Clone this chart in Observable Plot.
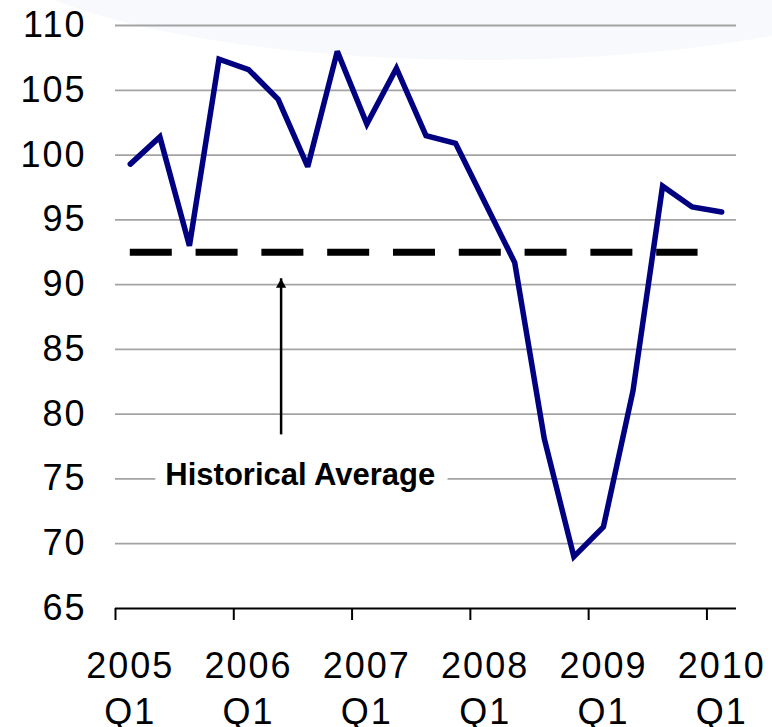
<!DOCTYPE html>
<html>
<head>
<meta charset="utf-8">
<script src="https://cdn.jsdelivr.net/npm/d3@7"></script>
<script src="https://cdn.jsdelivr.net/npm/@observablehq/plot@0.6"></script>
<style>
  html, body { margin: 0; padding: 0; background: white; }
  #wrap { position: relative; width: 772px; height: 727px; overflow: hidden; }
  #swoosh { position: absolute; left: -40px; top: -220px; width: 1040px; height: 280px;
            border-radius: 50%; background: #f7f9fc; }
  #chart { position: absolute; left: 0; top: 0; }
  #chart g[aria-label="y-axis tick label"] text,
  #chart g[aria-label="x-axis tick label"] text { letter-spacing: 2px; }
</style>
</head>
<body>
<div id="wrap"><div id="swoosh"></div><div id="chart"></div></div>
<script>
// Quarterly series, 2005 Q1 – 2010 Q1
const quarters = [
  "2005 Q1","2005 Q2","2005 Q3","2005 Q4",
  "2006 Q1","2006 Q2","2006 Q3","2006 Q4",
  "2007 Q1","2007 Q2","2007 Q3","2007 Q4",
  "2008 Q1","2008 Q2","2008 Q3","2008 Q4",
  "2009 Q1","2009 Q2","2009 Q3","2009 Q4",
  "2010 Q1"
];
const values = [
  99.3, 101.4, 93.0, 107.4,
  106.6, 104.3, 99.1, 108.0,
  102.4, 106.7, 101.5, 100.9,
  96.3, 91.7, 78.1, 69.0,
  71.3, 81.8, 97.6, 96.0,
  95.6
];
// x tick labels (every 4th quarter)
const tickIndex = [0, 4, 8, 12, 16, 20];
const tickYears = ["2005", "2006", "2007", "2008", "2009", "2010"];
const tickQuarter = ["Q1", "Q1", "Q1", "Q1", "Q1", "Q1"];
// y ticks
const yTicks = [65, 70, 75, 80, 85, 90, 95, 100, 105, 110];
// Historical average reference line
const historicalAverage = [92.5];
const averageFrom = [0];      // quarter index
const averageTo = [19.2];     // quarter index
// Annotation
const annotationText = ["Historical Average"];
const annotationAt = [{x: 5.75, y: 75}];
const arrowAt = [{x: 5.1, from: 78.4, to: 90.45}];

const data = quarters.map((q, i) => ({i, q, v: values[i]}));
const avgData = historicalAverage.map((v, k) => ({y: v, x1: averageFrom[k], x2: averageTo[k]}));
const annData = annotationText.map((t, k) => ({t, ...annotationAt[k]}));
const boundaries = tickIndex.map(i => i - 0.5);

const font = "'Liberation Sans', Arial, sans-serif";

const chart = Plot.plot({
  width: 772,
  height: 727,
  marginLeft: 115,
  marginRight: 36,
  marginTop: 25,
  marginBottom: 119,
  style: {background: "transparent", fontFamily: font, fontSize: "36px", color: "black"},
  x: {type: "linear", domain: [-0.5, quarters.length - 0.5], label: null},
  y: {domain: [65, 110], label: null},
  marks: [
    Plot.ruleY(yTicks.filter(d => d > 65), {stroke: "#a3a3a3", strokeWidth: 1.8}),
    Plot.ruleY([65], {stroke: "black", strokeWidth: 2}),
    Plot.axisX(boundaries, {tickSize: 12, tickFormat: () => "", stroke: "black", strokeWidth: 2, strokeOpacity: 1}),
    Plot.axisX(tickIndex, {
      tickSize: 0, tickPadding: 37, lineHeight: 1.27, fontSize: 36, fill: "black",
      tickFormat: i => { const k = tickIndex.indexOf(i); return tickYears[k] + "\n" + tickQuarter[k]; }
    }),
    Plot.axisY(yTicks, {tickSize: 0, tickPadding: 29, fontSize: 36, fill: "black"}),
    Plot.ruleY(avgData, {y: "y", x1: "x1", x2: "x2", stroke: "black", strokeWidth: 7, strokeDasharray: "42,23.8"}),
    Plot.ruleX(arrowAt, {x: "x", y1: "from", y2: "to", stroke: "black", strokeWidth: 2.5, strokeLinecap: "butt"}),
    Plot.dot(arrowAt, {x: "x", y: "to", symbol: "triangle", r: 3.8, fill: "black", stroke: "none", dy: 5.9}),
    Plot.text(annData, {x: "x", y: "y", text: "t", fontSize: 31, fontWeight: "bold", fill: "black",
      stroke: "white", strokeWidth: 24, strokeLinejoin: "miter", dy: -4}),
    Plot.line(data, {x: "i", y: "v", stroke: "#000080", strokeWidth: 5.5, strokeLinejoin: "miter", strokeMiterlimit: 3, strokeLinecap: "round"})
  ]
});
document.getElementById("chart").appendChild(chart);
</script>
</body>
</html>
